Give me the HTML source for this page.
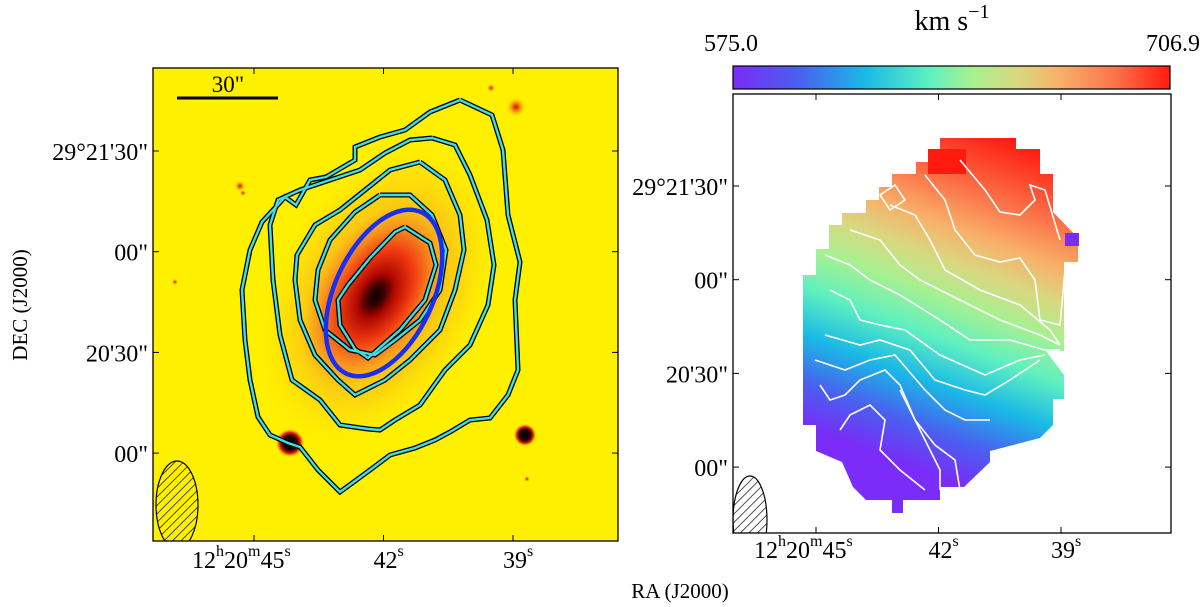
<!DOCTYPE html>
<html><head><meta charset="utf-8"><style>
html,body{margin:0;padding:0;background:#fff;width:1200px;height:607px;overflow:hidden}
svg{display:block;font-family:"Liberation Serif",serif}
</style></head><body>
<svg id="fig" width="1200" height="607" viewBox="0 0 1200 607">
<defs>
<radialGradient id="gal" cx="0.5" cy="0.5" r="0.5">
<stop offset="0" stop-color="#100000"/><stop offset="0.1" stop-color="#300000"/><stop offset="0.25" stop-color="#b00800"/>
<stop offset="0.5" stop-color="#f03a10"/><stop offset="0.75" stop-color="#f89020"/><stop offset="1" stop-color="#fbb010" stop-opacity="0"/>
</radialGradient>
<radialGradient id="halo" cx="0.5" cy="0.5" r="0.5">
<stop offset="0" stop-color="#f07020"/><stop offset="0.6" stop-color="#f8b020"/><stop offset="1" stop-color="#fff000" stop-opacity="0"/>
</radialGradient>
<radialGradient id="star" cx="0.5" cy="0.5" r="0.5"><stop offset="0" stop-color="#000"/><stop offset="0.5" stop-color="#200"/><stop offset="0.75" stop-color="#e02000"/><stop offset="1" stop-color="#ff8000" stop-opacity="0"/></radialGradient>
<radialGradient id="rstar" cx="0.5" cy="0.5" r="0.5"><stop offset="0" stop-color="#d00000"/><stop offset="1" stop-color="#ff8000" stop-opacity="0"/></radialGradient>
<linearGradient id="rainbow" x1="0" y1="0" x2="1" y2="0">
<stop offset="0" stop-color="#7a2cf8"/><stop offset="0.15" stop-color="#4a60f0"/><stop offset="0.3" stop-color="#1ab8e6"/><stop offset="0.45" stop-color="#5ef0c0"/><stop offset="0.55" stop-color="#a8f090"/><stop offset="0.65" stop-color="#d8d880"/><stop offset="0.75" stop-color="#f8b068"/><stop offset="0.88" stop-color="#fb7048"/><stop offset="1" stop-color="#ff1a10"/>
</linearGradient>
<linearGradient id="vel" gradientUnits="userSpaceOnUse" x1="880" y1="455" x2="1000" y2="135">
<stop offset="0" stop-color="#7a2cf8"/><stop offset="0.12" stop-color="#4a60f0"/><stop offset="0.25" stop-color="#1ab8e6"/><stop offset="0.38" stop-color="#5ef0c0"/><stop offset="0.5" stop-color="#a8f090"/><stop offset="0.6" stop-color="#d8d880"/><stop offset="0.7" stop-color="#f8b068"/><stop offset="0.82" stop-color="#fb7048"/><stop offset="1" stop-color="#ff1a10"/>
</linearGradient>
<pattern id="hatch" width="6" height="6" patternUnits="userSpaceOnUse" patternTransform="rotate(45)"><line x1="0" y1="0" x2="0" y2="6" stroke="#000" stroke-width="1.4"/></pattern>
<clipPath id="clipL"><rect x="153" y="68" width="465" height="473"/></clipPath>
<clipPath id="clipR"><rect x="733" y="94" width="438" height="439"/></clipPath>
</defs>

<!-- LEFT PANEL -->
<g clip-path="url(#clipL)">
<rect x="153" y="68" width="465" height="473" fill="#fff000"/>
<ellipse cx="378" cy="295" rx="110" ry="170" fill="url(#halo)" opacity="0.6" transform="rotate(28 378 295)"/>
<ellipse cx="378" cy="295" rx="75" ry="125" fill="url(#halo)" opacity="0.7" transform="rotate(30 378 295)"/>
<ellipse cx="376" cy="296" rx="62" ry="100" fill="url(#gal)" transform="rotate(32 376 296)"/>
<circle cx="290" cy="443" r="14" fill="url(#star)"/>
<circle cx="525" cy="435" r="11" fill="url(#star)"/>
<circle cx="516" cy="107" r="9" fill="url(#rstar)"/>
<circle cx="240" cy="186" r="5" fill="url(#rstar)"/>
<circle cx="491" cy="88" r="4" fill="url(#rstar)"/>
<circle cx="243" cy="193" r="3" fill="url(#rstar)"/>
<circle cx="175" cy="282" r="3" fill="url(#rstar)"/>
<circle cx="527" cy="479" r="3" fill="url(#rstar)"/>
<g fill="none">
<g stroke="#000" stroke-width="5">
<polyline points="460,100 492,115 503,150 508,215 520,262 515,300 518,370 508,395 490,418 470,420 450,432 435,440 415,448 390,455 370,470 340,492 318,470 300,447 288,443 270,435 258,417 250,380 245,340 242,290 250,250 262,222 285,197 296,205 310,180 326,177 355,160 355,147 380,137 405,130 430,112 460,100"/>
<polyline points="432,138 455,145 470,175 487,220 494,265 488,305 470,345 445,370 420,405 395,420 380,430 368,429 340,425 320,400 292,380 280,335 273,280 270,225 278,200 300,190 330,180 360,170 385,153 410,140 432,138"/>
<polyline points="420,162 445,180 460,215 464,250 455,290 440,330 410,360 385,380 355,395 338,380 315,355 300,320 295,280 297,255 315,225 340,210 365,190 390,170 420,162"/>
<polyline points="380,195 410,195 432,215 446,250 440,290 420,320 395,340 375,355 350,350 325,330 315,300 318,270 330,240 355,212 380,195"/>
<polyline points="405,227 430,243 436,265 425,300 400,330 368,358 355,349 340,325 338,300 348,285 370,258 395,232 405,227"/>
</g>
<g stroke="#40e0e0" stroke-width="2.4">
<polyline points="460,100 492,115 503,150 508,215 520,262 515,300 518,370 508,395 490,418 470,420 450,432 435,440 415,448 390,455 370,470 340,492 318,470 300,447 288,443 270,435 258,417 250,380 245,340 242,290 250,250 262,222 285,197 296,205 310,180 326,177 355,160 355,147 380,137 405,130 430,112 460,100"/>
<polyline points="432,138 455,145 470,175 487,220 494,265 488,305 470,345 445,370 420,405 395,420 380,430 368,429 340,425 320,400 292,380 280,335 273,280 270,225 278,200 300,190 330,180 360,170 385,153 410,140 432,138"/>
<polyline points="420,162 445,180 460,215 464,250 455,290 440,330 410,360 385,380 355,395 338,380 315,355 300,320 295,280 297,255 315,225 340,210 365,190 390,170 420,162"/>
<polyline points="380,195 410,195 432,215 446,250 440,290 420,320 395,340 375,355 350,350 325,330 315,300 318,270 330,240 355,212 380,195"/>
<polyline points="405,227 430,243 436,265 425,300 400,330 368,358 355,349 340,325 338,300 348,285 370,258 395,232 405,227"/>
</g>
</g>
<ellipse cx="384" cy="293" rx="49" ry="89" transform="rotate(25 384 293)" fill="none" stroke="#1a2ef0" stroke-width="4.5"/>
<ellipse cx="177" cy="505" rx="21" ry="44" fill="url(#hatch)" stroke="#000" stroke-width="1.2"/>
</g>
<line x1="177" y1="98" x2="278" y2="98" stroke="#000" stroke-width="3"/>
<text x="228" y="92" font-size="23" text-anchor="middle">30"</text>
<rect x="153" y="68" width="465" height="473" fill="none" stroke="#000" stroke-width="1.3"/>

<!-- RIGHT PANEL -->
<g clip-path="url(#clipR)">
<polygon points="940,138 966,138 1016,138 1016,149 1040,149 1040,174 1053,174 1053,212 1078,238 1078,262 1064,262 1064,351 1046,351 1064,375 1064,399 1053,399 1053,425 1040,438 990,451 990,462 964,487 940,487 940,500 903,500 903,513 892,513 892,500 866,500 853,487 842,462 816,451 816,425 803,425 803,275 816,275 816,249 829,249 829,225 842,225 842,213 866,213 866,200 879,200 879,187 892,187 892,174 916,174 916,162 940,162 940,149" fill="url(#vel)"/>
<rect x="928" y="149" width="38" height="25" fill="#ff1a10"/>
<rect x="1065" y="233" width="14" height="13" fill="#7a2cf8"/>
<g fill="none" stroke="#fff" stroke-width="1.6">
<polyline points="960,160 985,190 1000,212 1020,215 1035,200 1030,185 1045,190 1060,240"/>
<polyline points="925,175 945,200 955,230 975,255 1000,262 1020,258 1035,280 1040,320 1060,325 1065,270"/>
<polyline points="890,205 915,215 930,240 945,270 980,290 1020,305 1050,330 1060,345"/>
<polyline points="850,230 880,240 900,265 920,280 960,300 1000,320 1040,335 1060,345"/>
<polyline points="825,255 850,265 870,280 900,295 940,320 970,340 1010,340 1045,350 1060,350"/>
<polyline points="830,290 850,300 860,320 880,325 905,330 940,355 985,375 1020,360 1045,355"/>
<polyline points="825,335 860,345 880,340 910,350 935,380 965,390 985,395 1010,380 1040,360"/>
<polyline points="815,360 845,370 870,360 895,355 925,390 945,410 965,420 990,420"/>
<polyline points="820,385 830,400 845,395 860,380 885,370 900,385 915,420 935,445 955,460 960,490"/>
<polyline points="840,430 850,415 870,405 885,420 880,450 900,470 925,490"/>
<polyline points="940,490 940,470 925,440 910,410 900,390"/>
<polyline points="880,195 895,185 905,200 890,210 880,195"/>
</g>
<ellipse cx="750" cy="520" rx="17" ry="44" fill="url(#hatch)" stroke="#000" stroke-width="1.2"/>
</g>
<rect x="733" y="94" width="438" height="439" fill="none" stroke="#000" stroke-width="1.3"/>

<!-- COLORBAR -->
<rect x="733" y="66" width="437" height="23" fill="url(#rainbow)" stroke="#000" stroke-width="1.2"/>
<text x="704" y="51" font-size="24">575.0</text>
<text x="1200" y="51" font-size="24" text-anchor="end">706.9</text>
<text x="952" y="30" font-size="28" text-anchor="middle">km s<tspan dy="-12" font-size="20">−1</tspan></text>

<text x="0" y="0" font-size="21" text-anchor="middle" transform="translate(27,305) rotate(-90)">DEC (J2000)</text>
<text x="680" y="598" font-size="21" text-anchor="middle">RA (J2000)</text>
<g id="ticks"></g>
</svg>
<script>
const decLabels = ["29°21'30\"", "00\"", "20'30\"", "00\""];
const raLabels = ["45", "42", "39"];
const leftY = {y0:151, dy:100.7}, leftX = {x0:254, dx:129.5};
const rightY = {y0:186, dy:93.7}, rightX = {x0:816, dx:122.5};
const NS = "http://www.w3.org/2000/svg";
const g = document.getElementById('ticks');
function mk(tag, attrs, txt){const e=document.createElementNS(NS,tag);for(const k in attrs)e.setAttribute(k,attrs[k]);if(txt!==undefined)e.textContent=txt;g.appendChild(e);return e;}
function panel(px0, px1, py0, py1, ys, xs, base, tag){
  decLabels.forEach((lab,i)=>{
    const y = ys.y0 + i*ys.dy;
    const t1 = mk('line',{x1:px0,y1:y,x2:px0+6,y2:y,stroke:'#000','stroke-width':1});
    
    
    const t2 = mk('line',{x1:px1-6,y1:y,x2:px1,y2:y,stroke:'#000','stroke-width':1});
    
    
    const tx = mk('text',{x:px0-5,y:y+9,'font-size':24,'text-anchor':'end'},lab);
    
    
  });
  raLabels.forEach((lab,i)=>{
    const x = xs.x0 + i*xs.dx;
    const t1 = mk('line',{x1:x,y1:py1,x2:x,y2:py1-6,stroke:'#000','stroke-width':1});
    
    
    const t2 = mk('line',{x1:x,y1:py0,x2:x,y2:py0+6,stroke:'#000','stroke-width':1});
    
    
    const tx = mk('text',{x:x-10,y:base,'font-size':24});
    
    
    if(i===0){
      tx.setAttribute('x', x-62);
      tx.innerHTML = '12<tspan dy="-12" font-size="16">h</tspan><tspan dy="12">20</tspan><tspan dy="-12" font-size="16">m</tspan><tspan dy="12">'+lab+'</tspan><tspan dy="-12" font-size="16">s</tspan>';
    } else {
      tx.innerHTML = lab+'<tspan dy="-12" font-size="16">s</tspan>';
    }
  });
}
panel(153,618,68,541,leftY,leftX,568,'left');
panel(733,1171,94,533,rightY,rightX,558,'right');
</script>
</body></html>
